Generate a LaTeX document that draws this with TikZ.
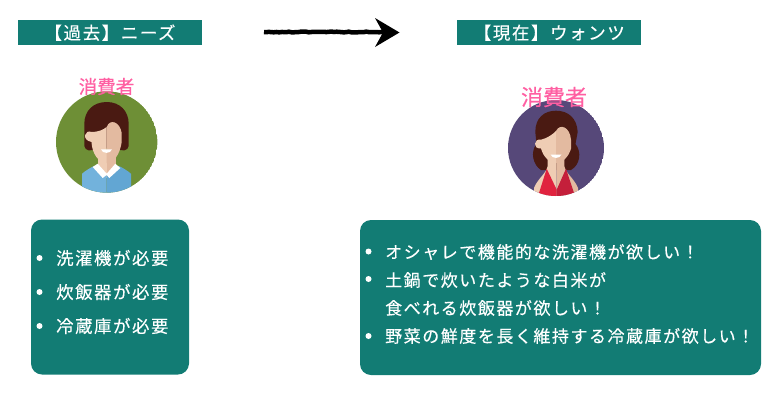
\documentclass[tikz,border=0pt]{standalone}
\usepackage{fontspec}
\usetikzlibrary{decorations.pathmorphing}
\newfontfamily\jpfont[LetterSpace=9,FakeBold=0.25]{Noto Sans CJK JP}
\newfontfamily\namefont[FakeBold=0.4]{Noto Sans CJK JP}
\definecolor{teal1}{HTML}{127C74}
\definecolor{pink1}{HTML}{FF5FA2}
\definecolor{hair1}{HTML}{4A1A12}
\definecolor{skinL}{HTML}{EFCDB4}
\definecolor{skinR}{HTML}{E3BAA0}
\definecolor{green1}{HTML}{6E8F36}
\definecolor{purple1}{HTML}{564879}
\definecolor{shirtL}{HTML}{72B2DC}
\definecolor{shirtR}{HTML}{62A6D3}
\definecolor{dressL}{HTML}{E0233F}
\definecolor{dressR}{HTML}{C41F3B}
\tikzset{
    titlebox/.style={fill=teal1, text=white, minimum width=184, minimum height=25.5, inner sep=0, font=\jpfont\fontsize{17.5}{20}\selectfont},
    listbox/.style={fill=teal1, rounded corners=11, inner sep=0},
    item/.style={anchor=west, text=white, inner sep=0, font=\jpfont\fontsize{17}{20}\selectfont},
    itemwide/.style={item, font=\jpfont\fontsize{17.4}{20}\selectfont},
    dot/.style={circle, fill=white, inner sep=0, minimum size=6},
    who/.style={text=pink1, inner sep=0}
}
\begin{document}
\begin{tikzpicture}[x=1pt, y=-1pt]
    \useasboundingbox (0,0) rectangle (780,408);

    % titles
    \node[titlebox] (past) at (110,32.7) {【過去】ニーズ};
    \node[titlebox] (now) at (549.3,32.7) {【現在】ウォンツ};

    % arrow between the titles
    \coordinate (arrowstart) at (264,32);
    \coordinate (arrowend) at (384,32);
    \draw[line width=4.5, decorate, decoration={random steps, segment length=2.5, amplitude=0.4}] (arrowstart) -- (arrowend);
    \fill (375,18) -- (399.5,32.5) -- (375,47) -- (383,32.5) -- cycle;

    % left person
    \begin{scope}
        \clip (106.7,142) circle (50.7);
        \fill[green1] (106.7,142) circle (50.7);
        % hair
        \fill[hair1] (106.7,102) .. controls (93,102) and (84.3,111) .. (84.3,124) -- (84.3,146) .. controls (85,151) and (91,152) .. (97,148) -- (116,148) .. controls (122,152) and (128,151) .. (128.7,146) -- (128.7,124) .. controls (128.7,111) and (120,102) .. (106.7,102) -- cycle;
        % neck
        \fill[skinL] (97.7,150) rectangle (106.7,178);
        \fill[skinR] (106.7,150) rectangle (116,178);
        % face
        \fill[skinL] (106.7,127) .. controls (103,130) and (98,132) .. (91.5,132) .. controls (85,129) and (81,140) .. (91.5,142) .. controls (92,154) and (99,163) .. (106.7,163) -- cycle;
        \fill[skinR] (106.7,127) .. controls (110,118) and (120,122) .. (121.7,133) -- (121.7,142) .. controls (120,154) and (114,163) .. (106.7,163) -- cycle;
        \fill[white] (101,149.3) -- (112,149.3) .. controls (111,154) and (102,154) .. (101,149.3) -- cycle;
        % shirt
        \fill[shirtL] (82,195) -- (82,173.7) .. controls (85,171) and (90,168) .. (94,166) -- (106.7,175) -- (106.7,195) -- cycle;
        \fill[shirtR] (131,195) -- (131,173.7) .. controls (128,171) and (123,168) .. (119,166) -- (106.7,175) -- (106.7,195) -- cycle;
        \fill[white] (92.7,167) -- (97.7,163.7) -- (106.7,173.7) -- (115.3,163.7) -- (120.3,168) -- (109.3,178) -- (106.7,175) -- (102.7,178) -- cycle;
    \end{scope}
    \node[who, font=\namefont\fontsize{18.5}{20}\selectfont] (buyerpast) at (106.5,86.5) {消費者};

    % right person
    \begin{scope}
        \clip (556,148) circle (48);
        \fill[purple1] (556,148) circle (48);
        % hair
        \fill[hair1] (556,110.7) .. controls (544,110.7) and (535.3,118) .. (535.3,132) -- (536.5,144) .. controls (530,152) and (533,165) .. (541,170) -- (571,170) .. controls (580,165) and (582,152) .. (575.5,144) -- (577.7,132) .. controls (577,118) and (568,110.7) .. (556,110.7) -- cycle;
        % neck and shoulders
        \fill[skinL] (556.7,150) -- (547.7,150) -- (547.7,166) .. controls (546,174) and (538,178) .. (534,188) -- (534,198) -- (556.7,198) -- cycle;
        \fill[skinR] (556.7,150) -- (564.3,150) -- (564.3,166) .. controls (566,174) and (574,178) .. (578,188) -- (578,198) -- (556.7,198) -- cycle;
        % face
        \fill[skinL] (556,131) .. controls (553,134) and (548,138) .. (541,139.7) .. controls (534,138) and (532,149) .. (541,148.5) .. controls (543,156) and (549,163) .. (556,163) -- cycle;
        \fill[skinR] (556,131) .. controls (560,123) and (570,127) .. (571,139.7) -- (571,148.5) .. controls (569,156) and (563,163) .. (556,163) -- cycle;
        \fill[white] (550.5,154.5) -- (561.5,154.5) .. controls (560,159) and (552,159) .. (550.5,154.5) -- cycle;
        % dress
        \fill[dressL] (546.7,168.7) -- (556.7,189.7) -- (556.7,198) -- (539,198) -- (539,193) -- cycle;
        \fill[dressR] (566,168.7) -- (556.7,189.7) -- (556.7,198) -- (574,198) -- (574,193) -- cycle;
    \end{scope}
    \node[who, font=\namefont\fontsize{22}{24}\selectfont] (buyernow) at (554,97) {消費者};

    % left list
    \path[listbox] (31,219.5) rectangle (189,374.5);
    \node[dot] (pa) at (39.5,258) {};
    \node[dot] (pb) at (39.5,292) {};
    \node[dot] (pc) at (39.5,326) {};
    \node[itemwide] (pone) at (56,258) {洗濯機が必要};
    \node[itemwide] (ptwo) at (56,292) {炊飯器が必要};
    \node[itemwide] (pthree) at (56,326) {冷蔵庫が必要};

    % right list
    \path[listbox] (360,220) rectangle (761,375);
    \node[dot] (na) at (368.5,251.5) {};
    \node[dot] (nb) at (368.5,279) {};
    \node[dot] (nc) at (368.5,336) {};
    \node[item] (none) at (385,252) {オシャレで機能的な洗濯機が欲しい！};
    \node[item] (ntwo) at (385,280) {土鍋で炊いたような白米が};
    \node[item] (nthree) at (385,308) {食べれる炊飯器が欲しい！};
    \node[item] (nfour) at (385,336) {野菜の鮮度を長く維持する冷蔵庫が欲しい！};
\end{tikzpicture}
\end{document}
